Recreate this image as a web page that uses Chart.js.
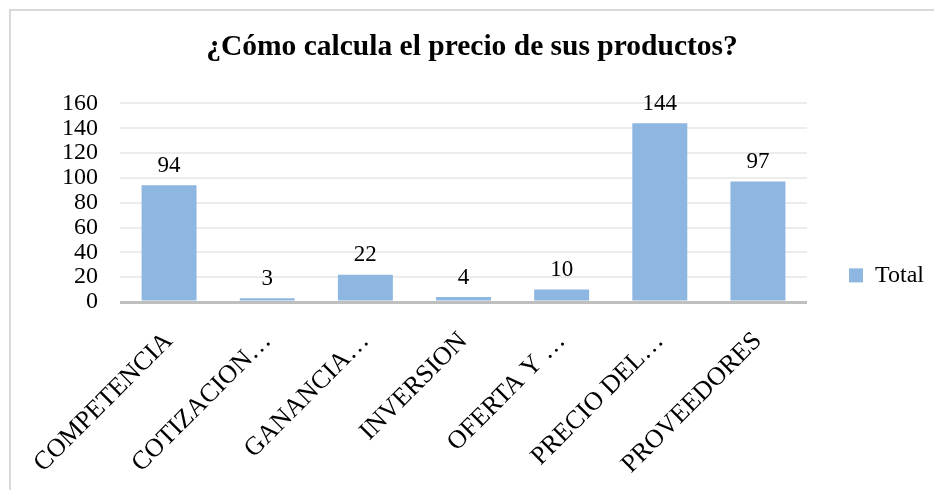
<!DOCTYPE html>
<html>
<head>
<meta charset="utf-8">
<script src="https://cdn.jsdelivr.net/npm/chart.js@4.4.0/dist/chart.umd.min.js"></script>
<style>
    html, body { margin: 0; padding: 0; background: #fff; overflow: hidden; }
    #frame { position: absolute; left: 9px; top: 9px; width: 1000px; height: 1000px; border: 2px solid #d9d9d9; }
    #wrap { position: absolute; left: 0; top: 0; width: 934px; height: 490px; }
</style>
</head>
<body>
<div id="frame"></div>
<div id="wrap"><canvas id="myChart" width="934" height="490"></canvas></div>
<script>
// categorías tal como aparecen en el eje
var categories = ['COMPETENCIA', 'COTIZACION…', 'GANANCIA…', 'INVERSION', 'OFERTA Y …', 'PRECIO DEL…', 'PROVEEDORES'];
var totals = [94, 3, 22, 4, 10, 144, 97];
var yTicks = [0, 20, 40, 60, 80, 100, 120, 140, 160];

var serif = '"Liberation Serif", "Times New Roman", serif';

// etiquetas de valor encima de cada barra
var valueLabels = {
    id: 'valueLabels',
    afterDatasetsDraw: function (chart) {
        var ctx = chart.ctx;
        var meta = chart.getDatasetMeta(0);
        ctx.save();
        ctx.font = '23px ' + serif;
        ctx.fillStyle = '#000';
        ctx.textAlign = 'center';
        ctx.textBaseline = 'bottom';
        meta.data.forEach(function (bar, i) {
            ctx.fillText(totals[i], bar.x, bar.y - 8);
        });
        ctx.restore();
    }
};

var ctx = document.getElementById('myChart').getContext('2d');

var myChart = new Chart(ctx, {
    type: 'bar',
    data: {
        labels: categories,
        datasets: [{
            label: 'Total',
            data: totals,
            backgroundColor: '#8db6e0',
            borderWidth: 0,
            categoryPercentage: 1,
            barPercentage: 0.56
        }]
    },
    options: {
        responsive: false,
        animation: false,
        layout: { padding: { left: 10, right: 0, top: 0, bottom: 0 }, autoPadding: false },
        scales: {
            x: {
                grid: { display: false },
                border: { display: false },
                ticks: {
                    color: '#000',
                    font: { family: serif, size: 26 },
                    minRotation: 45,
                    maxRotation: 45,
                    padding: 16,
                    autoSkip: false
                },
                afterFit: function (scale) { scale.height = 188; }
            },
            y: {
                min: 0,
                max: 160,
                afterBuildTicks: function (scale) {
                    scale.ticks = yTicks.map(function (v) { return { value: v }; });
                },
                border: { display: false },
                grid: {
                    drawTicks: false,
                    color: function (c) { return c.tick && c.tick.value === 0 ? '#bfbfbf' : '#ececec'; },
                    lineWidth: function (c) { return c.tick && c.tick.value === 0 ? 3 : 2; }
                },
                ticks: {
                    color: '#000',
                    font: { family: serif, size: 24 },
                    padding: 22,
                    autoSkip: false
                },
                afterFit: function (scale) { scale.width = 110; }
            }
        },
        plugins: {
            title: {
                display: true,
                text: '¿Cómo calcula el precio de sus productos?',
                color: '#000',
                font: { family: serif, size: 29.5, weight: 'bold' },
                padding: { top: 30, bottom: 38 }
            },
            legend: {
                position: 'right',
                align: 'start',
                // título vacío: solo sirve para bajar la leyenda
                title: { display: true, text: '', font: { size: 12 }, padding: { top: 0, bottom: 207 } },
                labels: {
                    color: '#000',
                    font: { family: serif, size: 24 },
                    boxWidth: 14,
                    boxHeight: 14,
                    padding: 42
                }
            },
            tooltip: { enabled: false }
        }
    },
    plugins: [valueLabels]
});
</script>
</body>
</html>
